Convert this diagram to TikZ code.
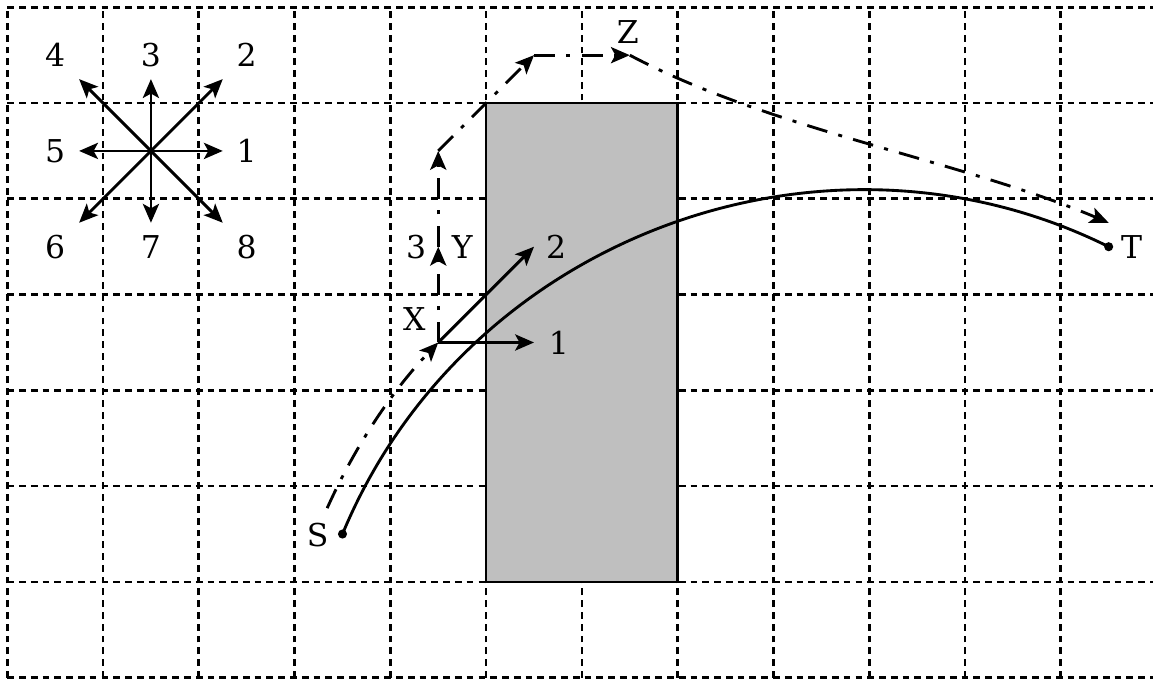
\documentclass[tikz,border=0pt]{standalone}
\usepackage{fontspec}
\setmainfont{DejaVu Serif}
\usetikzlibrary{arrows.meta}
\tikzset{
  gridline/.style={line width=0.8pt, dash pattern=on 2pt off 1.5pt},
  tipstyle/.style={-{Stealth[length=5.6pt,width=4.8pt,inset=1.3pt]}},
  arr/.style={line width=0.85pt, tipstyle},
  dd/.style={line width=0.85pt, dash pattern=on 6.2pt off 3.4pt on 1.2pt off 3.4pt},
  lbl/.style={font=\fontsize{9.35}{11}\selectfont, inner sep=0pt},
  dot/.style={circle, fill=black, inner sep=0pt, minimum size=0.095cm},
  block/.style={fill=gray!50, draw=black, line width=0.8pt}
}
\begin{document}
\begin{tikzpicture}
\useasboundingbox (-0.076,-0.0137) rectangle (11.963,7.076);
\clip (-0.076,-0.0137) rectangle (11.963,7.076);

% grid
\draw[gridline] (0,0) grid (12,7);

% obstacle
\draw[block] (5,1) rectangle (7,6);

% compass
\coordinate (C) at (1.5,5.5);
\coordinate (c1) at (2.25,5.5);
\coordinate (c2) at (2.25,6.25);
\coordinate (c3) at (1.5,6.25);
\coordinate (c4) at (0.75,6.25);
\coordinate (c5) at (0.75,5.5);
\coordinate (c6) at (0.75,4.75);
\coordinate (c7) at (1.5,4.75);
\coordinate (c8) at (2.25,4.75);
\foreach \i in {1,...,8} \draw[arr] (C) -- (c\i);
\node[lbl] (l1) at (2.5,5.5) {1};
\node[lbl] (l2) at (2.5,6.5) {2};
\node[lbl] (l3) at (1.5,6.5) {3};
\node[lbl] (l4) at (0.5,6.5) {4};
\node[lbl] (l5) at (0.5,5.5) {5};
\node[lbl] (l6) at (0.5,4.5) {6};
\node[lbl] (l7) at (1.5,4.5) {7};
\node[lbl] (l8) at (2.5,4.5) {8};

% points
\node[dot] (S) at (3.5,1.5) {};
\node[dot] (T) at (11.5,4.5) {};
\node[lbl] (Slbl) at (3.24,1.49) {S};
\node[lbl] (Tlbl) at (11.74,4.5) {T};

% solid path S -> T
\draw[line width=0.85pt] (S.center) to[out=67.5,in=153.6] (T.center);

% local frame at X
\coordinate (X) at (4.5,3.5);
\coordinate (a1) at (5.5,3.5);
\coordinate (a2) at (5.5,4.5);
\draw[arr] (X) -- (a1);
\draw[arr] (X) -- (a2);
\node[lbl] (x1) at (5.76,3.5) {1};
\node[lbl] (x2) at (5.73,4.5) {2};
\node[lbl] (Xlbl) at (4.25,3.75) {X};

% dash-dot route
\coordinate (Sd) at (3.34,1.77);
\coordinate (Y) at (4.5,4.5);
\coordinate (W) at (4.5,5.5);
\coordinate (V) at (5.5,6.5);
\coordinate (Z) at (6.5,6.5);
\coordinate (Tt) at (11.5,4.75);
\draw[dd, tipstyle] (Sd) to[out=65.8,in=226.2,looseness=0.86] (X);
\draw[dd, tipstyle] (X) -- (Y);
\draw[dd, tipstyle] (Y) -- (W);
\draw[dd, tipstyle] (W) -- (V);
\draw[dd, tipstyle] (V) -- (Z);
\draw[dd, tipstyle] (Z) to[out=-28,in=157,looseness=0.8] (Tt);
\node[lbl] (three) at (4.27,4.5) {3};
\node[lbl] (Ylbl) at (4.75,4.5) {Y};
\node[lbl] (Zlbl) at (6.48,6.74) {Z};
\end{tikzpicture}
\end{document}
